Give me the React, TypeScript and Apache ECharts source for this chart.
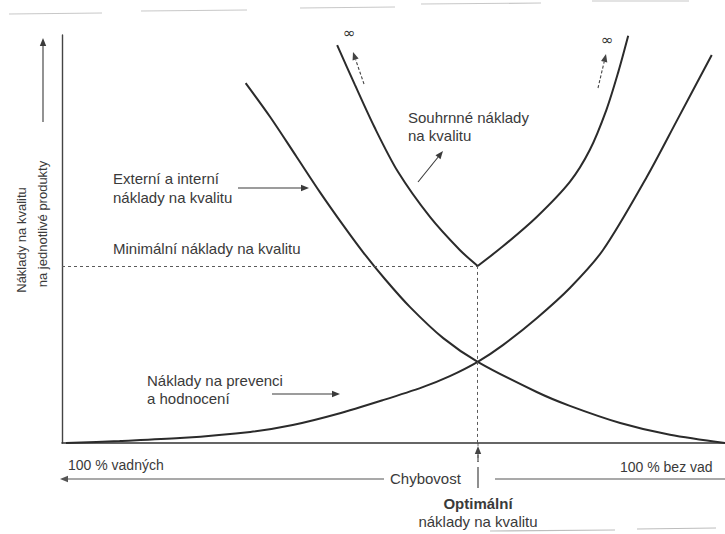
import React, { useEffect, useRef } from "react";
import * as echarts from "echarts";

// Quality level (0 = 100 % defective, 100 = 100 % defect-free) and cost values
const failureX = [27.7, 31.4, 35.4, 38.9, 42.4, 45.4, 48.7, 52.5, 57.5, 62.7, 71.6, 76.6, 84.2, 91.7, 100];
const failureY = [88.2, 79.9, 70.1, 61.5, 53.4, 46.8, 40.2, 33.3, 25.7, 19.9, 12.5, 9.1, 4.9, 2.0, 0];

const preventionX = [0.6, 8.7, 17.8, 28.4, 34.8, 41.5, 48.4, 54.4, 58.5, 62.7, 66.5, 71.6, 76.6, 81.6, 88.2, 92.8, 98.0];
const preventionY = [0.0, 0.5, 1.2, 2.7, 4.4, 7.1, 10.5, 13.7, 16.4, 19.9, 24.0, 30.6, 38.0, 47.3, 65.2, 79.2, 95.1];

const totalLeftX = [41.5, 44.2, 47.1, 50.7, 55.5, 60.0, 62.7];
const totalLeftY = [97.5, 87.7, 77.5, 66.4, 55.4, 47.3, 43.4];
const totalRightX = [62.7, 66.5, 71.6, 76.6, 79.6, 82.1, 83.9, 85.4];
const totalRightY = [43.4, 48.2, 55.4, 64.0, 71.8, 81.6, 90.9, 99.8];

const optimumX = 62.7;
const minimumTotal = 43.4;

const pairs = (xs: number[], ys: number[]) => xs.map((x, i) => [x, ys[i]]);

const FONT = "'Liberation Sans', Arial, sans-serif";
const INK = "#2b2b2b";
const TEXT = "#3a3a3a";

function label(x: number, y: number, text: string, extra: any = {}) {
  return {
    type: "text",
    x,
    y,
    silent: true,
    style: {
      text,
      fill: TEXT,
      font: `15px ${FONT}`,
      textVerticalAlign: "middle",
      ...extra,
    },
  };
}

function arrow(x1: number, y1: number, x2: number, y2: number, color = "#3a3a3a", dash?: number[]) {
  const ang = Math.atan2(y2 - y1, x2 - x1);
  const len = 8;
  const half = 3.2;
  const bx = x2 - len * Math.cos(ang);
  const by = y2 - len * Math.sin(ang);
  const px = -Math.sin(ang) * half;
  const py = Math.cos(ang) * half;
  return [
    {
      type: "line",
      silent: true,
      shape: { x1, y1, x2: bx, y2: by },
      style: { stroke: color, lineWidth: 1.1, lineDash: dash },
    },
    {
      type: "polygon",
      silent: true,
      shape: { points: [[x2, y2], [bx + px, by + py], [bx - px, by - py]] },
      style: { fill: color },
    },
  ];
}

function seg(x1: number, y1: number, x2: number, y2: number, stroke: string, lineWidth = 1, dash?: number[]) {
  return {
    type: "line",
    silent: true,
    shape: { x1, y1, x2, y2 },
    style: { stroke, lineWidth, lineDash: dash },
  };
}

export default function App() {
  const ref = useRef<HTMLDivElement>(null);

  useEffect(() => {
    document.body.style.margin = "0";
    if (!ref.current) return;
    const chart = echarts.init(ref.current, undefined, { renderer: "svg" });

    const curve = (name: string, data: number[][], extra: any = {}) => ({
      name,
      type: "line",
      data,
      smooth: 0.3,
      showSymbol: false,
      symbol: "none",
      silent: true,
      lineStyle: { color: INK, width: 2 },
      ...extra,
    });

    const vertTitle = (x: number, y: number, text: string) => ({
      type: "text",
      x,
      y,
      rotation: Math.PI / 2,
      silent: true,
      style: {
        text,
        fill: TEXT,
        font: `13px ${FONT}`,
        textAlign: "center",
        textVerticalAlign: "middle",
      },
    });

    chart.setOption({
      animation: false,
      backgroundColor: "#ffffff",
      grid: { left: 62, top: 35, width: 663, height: 408 },
      xAxis: {
        type: "value",
        min: 0,
        max: 100,
        axisLine: { show: true, lineStyle: { color: "#333", width: 1.6 } },
        axisTick: { show: false },
        axisLabel: { show: false },
        splitLine: { show: false },
      },
      yAxis: {
        type: "value",
        min: 0,
        max: 100,
        axisLine: { show: true, lineStyle: { color: "#444", width: 1.4 } },
        axisTick: { show: false },
        axisLabel: { show: false },
        splitLine: { show: false },
      },
      series: [
        curve("Externí a interní náklady na kvalitu", pairs(failureX, failureY)),
        curve("Náklady na prevenci a hodnocení", pairs(preventionX, preventionY)),
        curve("Souhrnné náklady na kvalitu", pairs(totalLeftX, totalLeftY), {
          markLine: {
            silent: true,
            symbol: "none",
            label: { show: false },
            lineStyle: { color: "#5a5a5a", type: [3, 3], width: 1 },
            data: [
              [{ coord: [0, minimumTotal] }, { coord: [optimumX, minimumTotal] }],
              [{ coord: [optimumX, minimumTotal] }, { coord: [optimumX, 0] }],
            ],
          },
        }),
        curve("Souhrnné náklady na kvalitu ", pairs(totalRightX, totalRightY)),
      ],
      graphic: [
        // faint page edges
        seg(9, 14, 102, 13, "#c8c8c8", 1.2),
        seg(141, 11, 247, 10, "#c8c8c8", 1.2),
        seg(300, 8, 395, 7, "#c8c8c8", 1.2),
        seg(421, 4, 541, 3, "#c8c8c8", 1.2),
        seg(592, 1, 689, 1, "#c8c8c8", 1.2),
        seg(490, 531, 615, 530, "#bdbdbd", 1.2),
        seg(637, 529, 716, 528, "#bdbdbd", 1.2),

        // vertical axis title
        vertTitle(21, 240, "Náklady na kvalitu"),
        vertTitle(42, 224, "na jednotlivé produkty"),
        ...arrow(43, 122, 43, 38),

        // infinity marks at the top of the total-cost curve
        label(343, 33, "∞", { font: `15px 'DejaVu Sans', sans-serif`, fill: "#333" }),
        label(601, 40, "∞", { font: `15px 'DejaVu Sans', sans-serif`, fill: "#333" }),
        ...arrow(364, 84, 353, 52, "#444", [3, 2]),
        ...arrow(598, 88, 606, 54, "#444", [3, 2]),

        // curve labels
        label(408, 117, "Souhrnné náklady"),
        label(408, 135, "na kvalitu"),
        ...arrow(418, 182, 443, 151),

        label(113, 178, "Externí a interní"),
        label(113, 197, "náklady na kvalitu"),
        ...arrow(238, 188, 309, 188),

        label(113, 248, "Minimální náklady na kvalitu"),

        label(147, 380, "Náklady na prevenci"),
        label(147, 398, "a hodnocení"),
        ...arrow(272, 394, 340, 394),

        // horizontal axis legend
        label(68, 465, "100 % vadných", { font: `14px ${FONT}` }),
        label(620, 467, "100 % bez vad", { font: `14px ${FONT}` }),
        label(390, 478, "Chybovost", { font: `15px ${FONT}` }),
        ...arrow(384, 479, 60, 479, "#555"),
        seg(495, 479, 725, 479, "#555", 1.1),
        seg(478, 443, 478, 462, "#6a6a6a", 1, [3, 3]),
        ...arrow(478, 462, 478, 446, "#444"),
        seg(478, 467, 478, 488, "#444", 1.2),
        label(478, 503, "Optimální", { textAlign: "center", font: `bold 15px ${FONT}` }),
        label(478, 521, "náklady na kvalitu", { textAlign: "center", font: `15px ${FONT}` }),
      ],
    });

    return () => chart.dispose();
  }, []);

  return <div ref={ref} style={{ width: 725, height: 534 }} />;
}
